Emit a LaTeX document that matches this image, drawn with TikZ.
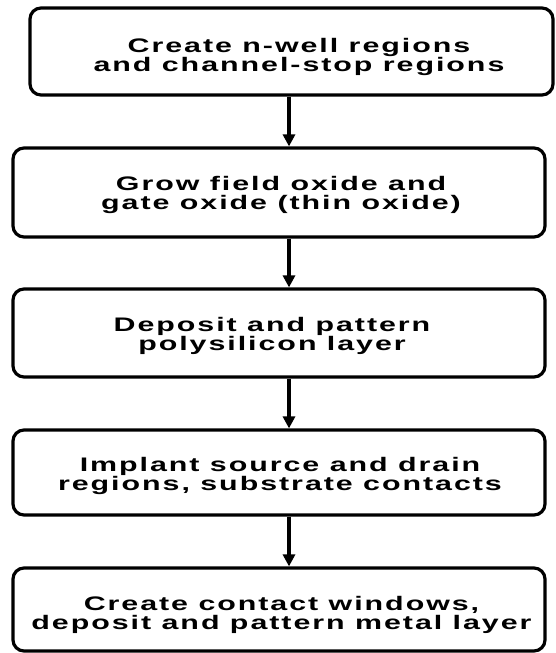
\documentclass[tikz,border=0pt]{standalone}
\usepackage{fontspec}
\setmainfont{Liberation Sans}[FakeStretch=1.55,LetterSpace=10,BoldFont={* Bold}]
\usetikzlibrary{arrows.meta}
\begin{document}
\begin{tikzpicture}[x=1pt,y=-1pt,
  stepbox/.style={draw,line width=3.2pt,rounded corners=11pt,inner sep=0pt},
  steptext/.style={align=center,font=\fontsize{19.6}{19}\selectfont\bfseries,inner sep=0pt},
  flow/.style={line width=3.2pt,-{Triangle[length=12pt,width=12pt]}}]
\useasboundingbox (0,0) rectangle (556,653);
\node[stepbox,minimum width=523pt,minimum height=87pt] (b1) at (291.5,51.5) {};
\node[stepbox,minimum width=532pt,minimum height=89pt] (b2) at (279,192.5) {};
\node[stepbox,minimum width=532pt,minimum height=88pt] (b3) at (279,333) {};
\node[stepbox,minimum width=532pt,minimum height=85pt] (b4) at (279,472.5) {};
\node[stepbox,minimum width=532pt,minimum height=83pt] (b5) at (279,609.5) {};
\node[steptext] (t1) at (299,56.5) {Create n-well regions\\and channel-stop regions};
\node[steptext] (t2) at (281,195) {Grow field oxide and\\gate oxide (thin oxide)};
\node[steptext] (t3) at (272,335.5) {Deposit and pattern\\polysilicon layer};
\node[steptext] (t4) at (280,475.5) {Implant source and drain\\regions, substrate contacts};
\node[steptext] (t5) at (281.5,614.5) {Create contact windows,\\deposit and pattern metal layer};
\draw[flow] (b1.south -| 289,0) -- (b2.north -| 289,0);
\draw[flow] (b2.south -| 289,0) -- (b3.north -| 289,0);
\draw[flow] (b3.south -| 289,0) -- (b4.north -| 289,0);
\draw[flow] (b4.south -| 289,0) -- (b5.north -| 289,0);
\end{tikzpicture}
\end{document}
